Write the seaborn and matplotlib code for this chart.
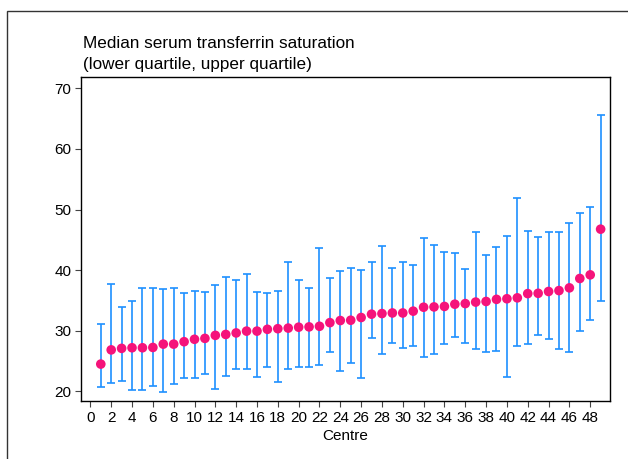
import matplotlib
matplotlib.use("Agg")
import matplotlib.pyplot as plt
from matplotlib.patches import Rectangle
import seaborn as sns
import pandas as pd

sns.set_style("white")
plt.rcParams['font.family'] = ['Liberation Sans', 'DejaVu Sans']

# centres ranked by median serum transferrin saturation
centre = list(range(1, 50))
median = [24.45, 26.8, 27.05, 27.15, 27.15, 27.2, 27.75, 27.75, 28.15, 28.55,
          28.7, 29.2, 29.35, 29.6, 29.9, 29.9, 30.2, 30.3, 30.4, 30.55,
          30.6, 30.7, 31.3, 31.65, 31.7, 32.15, 32.7, 32.8, 32.9, 32.9,
          33.2, 33.85, 33.9, 33.98, 34.35, 34.45, 34.7, 34.8, 35.15, 35.25,
          35.4, 36.1, 36.15, 36.45, 36.6, 37.05, 38.6, 39.2, 46.75]
lower = [20.6, 21.4, 21.65, 20.2, 20.1, 20.9, 19.85, 21.1, 22.2, 22.1,
         22.85, 20.4, 22.5, 23.7, 23.6, 22.3, 24.0, 21.45, 23.7, 24.0,
         24.0, 24.25, 26.5, 23.35, 24.6, 22.15, 28.75, 26.05, 28.0, 27.1,
         27.4, 25.6, 26.1, 27.75, 28.95, 27.9, 26.95, 26.5, 26.6, 22.3,
         27.45, 27.75, 29.2, 28.55, 26.95, 26.45, 29.95, 31.8, 34.95]
upper = [31.0, 37.65, 33.9, 34.95, 37.0, 37.0, 36.85, 37.05, 36.2, 36.6,
         36.35, 37.5, 38.8, 38.4, 39.4, 36.3, 36.2, 36.5, 41.3, 38.4,
         37.0, 43.7, 38.6, 39.8, 40.35, 40.0, 41.4, 44.05, 40.25, 41.25,
         40.85, 45.3, 44.15, 42.9, 42.8, 40.15, 46.2, 42.45, 43.75, 45.6,
         51.95, 46.4, 45.4, 46.2, 46.35, 47.7, 49.45, 50.4, 65.7]

df = pd.DataFrame({"centre": centre, "median": median, "lower": lower, "upper": upper})

W, H = 628, 459
fig = plt.figure(figsize=(W / 100, H / 100), dpi=100)
ax = fig.add_axes([81 / W, 1 - 401 / H, (610 - 81) / W, (401 - 77) / H])

ax.errorbar(df["centre"], df["median"],
            yerr=[df["median"] - df["lower"], df["upper"] - df["median"]],
            fmt="none", ecolor="#1E90FF", elinewidth=1.2, capsize=3, capthick=1.2, zorder=2)
sns.scatterplot(data=df, x="centre", y="median", color="#F5137A", s=48,
                edgecolor="none", zorder=3, ax=ax)

ax.set_xlim(-0.9, 49.9)
ax.set_ylim(18.35, 71.9)
ax.set_xticks(range(0, 49, 2))
ax.set_yticks(range(20, 71, 10))
ax.tick_params(axis="both", direction="out", length=4, width=0.8, color="#444444",
               labelsize=11, labelcolor="black", pad=3, bottom=True, left=True)
ax.set_xlabel("Centre", fontsize=11, labelpad=3, color="black")
ax.set_ylabel("")
for sp in ax.spines.values():
    sp.set_color("black")
    sp.set_linewidth(1.0)

fig.text(83 / W, 1 - 44 / H, "Median serum transferrin saturation", fontsize=12.3,
         va="center", ha="left", color="black")
fig.text(83 / W, 1 - 64 / H, "(lower quartile, upper quartile)", fontsize=12.3,
         va="center", ha="left", color="black")

# outer frame of the graph region
fig.patches.append(Rectangle((7 / W, -0.1), 1.0, 1 - 11 / H + 0.1, transform=fig.transFigure,
                             fill=False, edgecolor="#333333", linewidth=1.0))

fig.savefig("out.png", dpi=100)
